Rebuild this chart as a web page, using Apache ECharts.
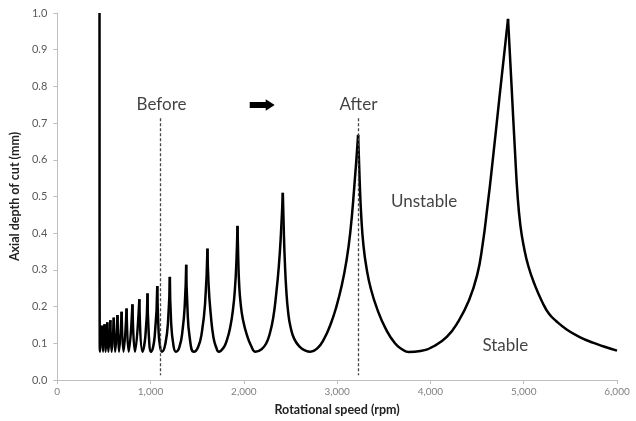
<!DOCTYPE html>
<html>
<head>
<meta charset="utf-8">
<script src="https://cdn.jsdelivr.net/npm/echarts@6/dist/echarts.min.js"></script>
<style>
  html, body { margin: 0; background: #fff; }
  #main { width: 636px; height: 421px; }
</style>
</head>
<body>
<div id="main"></div>
<script>
// stability lobe: [rotational speed rpm, axial depth mm]
var curve = [
  [453, 1.0], [453.6, 0.4], [455, 0.12], [459, 0.077], [482, 0.148],
  [491, 0.077], [507, 0.152],
  [518, 0.077], [536, 0.157],
  [548, 0.077], [569, 0.163],
  [583, 0.077], [606, 0.170],
  [621, 0.077], [646, 0.177],
  [662, 0.077], [690, 0.186],
  [710, 0.077], [743, 0.195],
  [766, 0.077], [806, 0.206],
  [833, 0.077], [880, 0.220],
  [913, 0.077], [945, 0.12], [968, 0.236],
  [980, 0.13], [1006, 0.077], [1045, 0.12], [1072, 0.256],
  [1085, 0.14], [1100, 0.095], [1122, 0.077], [1160, 0.1], [1190, 0.17], [1207, 0.281],
  [1220, 0.16], [1245, 0.095], [1272, 0.077], [1310, 0.09], [1345, 0.14], [1368, 0.21], [1382, 0.314],
  [1395, 0.2], [1420, 0.115], [1464, 0.077], [1510, 0.09], [1550, 0.13], [1585, 0.21], [1610, 0.358],
  [1622, 0.26], [1645, 0.18], [1675, 0.115], [1705, 0.088], [1731, 0.077], [1780, 0.087],
  [1820, 0.11], [1855, 0.145], [1885, 0.195], [1905, 0.25], [1920, 0.32], [1932, 0.42],
  [1940, 0.33], [1950, 0.26], [1965, 0.21], [1990, 0.165], [2036, 0.12], [2080, 0.092],
  [2125, 0.077], [2190, 0.084], [2240, 0.1], [2280, 0.128], [2315, 0.17], [2345, 0.23],
  [2375, 0.31], [2398, 0.40], [2418, 0.51],
  [2428, 0.41], [2440, 0.32], [2455, 0.245], [2475, 0.185], [2500, 0.145], [2540, 0.112],
  [2600, 0.09], [2660, 0.08], [2714, 0.077], [2790, 0.087], [2860, 0.112], [2930, 0.152],
  [2990, 0.198], [3050, 0.258], [3100, 0.325], [3140, 0.40], [3182, 0.52], [3225, 0.668],
  [3242, 0.54], [3260, 0.44], [3283, 0.365], [3315, 0.305], [3360, 0.25], [3430, 0.193],
  [3520, 0.14], [3620, 0.1], [3700, 0.083], [3767, 0.076], [3893, 0.079], [4035, 0.092],
  [4178, 0.118], [4300, 0.16], [4410, 0.215], [4500, 0.285], [4560, 0.37], [4610, 0.47],
  [4660, 0.58], [4740, 0.77], [4832, 0.984],
  [4870, 0.80], [4905, 0.63], [4935, 0.50], [4965, 0.42], [5000, 0.365], [5050, 0.31],
  [5125, 0.255], [5200, 0.212], [5267, 0.182], [5350, 0.16], [5464, 0.137], [5600, 0.117],
  [5749, 0.101], [5850, 0.092], [6000, 0.08]
];
// speeds where two lobes meet (sharp cusps)
var cuspRpm = [453, 482, 507, 536, 569, 606, 646, 690, 743, 806, 880, 968,
  1072, 1207, 1382, 1610, 1932, 2418, 3225, 4832];

var guideRpm = [1107, 3225];
var guideTop = 0.713;
var guideBottom = 0.013;

var noteText = ['Before', 'After', 'Unstable', 'Stable'];
var noteRpm = [1118, 3228, 3932, 4803];
var noteDepth = [0.752, 0.752, 0.487, 0.093];

var arrowAt = [2197, 0.7495];

// split the curve at the cusps so each lobe is smoothed on its own
var segments = [];
var cur = [];
curve.forEach(function (p) {
  cur.push(p);
  if (cuspRpm.indexOf(p[0]) >= 0 && cur.length > 1) {
    segments.push(cur);
    cur = [p];
  }
});
if (cur.length > 1) segments.push(cur);

var series = segments.map(function (seg) {
  return {
    type: 'line',
    data: seg,
    smooth: 0.5,
    symbol: 'none',
    silent: true,
    lineStyle: { color: '#000', width: 2.5 }
  };
});

series.push({
  type: 'line',
  data: [],
  silent: true,
  markLine: {
    symbol: 'none',
    silent: true,
    label: { show: false },
    lineStyle: { color: '#444', width: 1.3, type: [3, 2] },
    data: guideRpm.map(function (r) {
      return [{ coord: [r, guideTop] }, { coord: [r, guideBottom] }];
    })
  },
  markPoint: {
    silent: true,
    symbol: 'path://M0,2.7L16,2.7L16,0L25,5.7L16,11.4L16,8.7L0,8.7Z',
    symbolSize: [25, 11.4],
    itemStyle: { color: '#000' },
    label: { show: false },
    data: [{ coord: arrowAt }]
  }
});

series.push({
  type: 'scatter',
  symbolSize: 0,
  silent: true,
  data: noteText.map(function (t, i) {
    return { name: t, value: [noteRpm[i], noteDepth[i]] };
  }),
  label: {
    show: true,
    position: 'inside',
    formatter: '{b}',
    fontFamily: 'Lato',
    fontSize: 17,
    color: '#111'
  }
});

var chart = echarts.init(document.getElementById('main'));
chart.setOption({
  animation: false,
  textStyle: { fontFamily: 'Lato' },
  grid: { left: 57, right: 19, top: 13, bottom: 41 },
  xAxis: {
    type: 'value',
    min: 0,
    max: 6000,
    interval: 1000,
    name: 'Rotational speed (rpm)',
    nameLocation: 'middle',
    nameGap: 23,
    nameTextStyle: { fontFamily: 'Lato', fontWeight: 'bold', fontSize: 12.5, color: '#222' },
    axisLine: { show: true, lineStyle: { color: '#bfbfbf', width: 1 } },
    axisTick: { show: true, length: 4, lineStyle: { color: '#bfbfbf' } },
    splitLine: { show: false },
    axisLabel: {
      color: '#808080',
      fontSize: 10,
      margin: 7,
      formatter: function (v) { return v.toLocaleString('en-US'); }
    }
  },
  yAxis: {
    type: 'value',
    min: 0,
    max: 1,
    interval: 0.1,
    name: 'Axial depth of cut (mm)',
    nameLocation: 'middle',
    nameGap: 31,
    nameTextStyle: { fontFamily: 'Lato', fontWeight: 'bold', fontSize: 12.5, color: '#222' },
    axisLine: { show: true, lineStyle: { color: '#bfbfbf', width: 1 } },
    axisTick: { show: true, length: 4, lineStyle: { color: '#bfbfbf' } },
    splitLine: { show: false },
    axisLabel: {
      color: '#595959',
      fontSize: 11,
      margin: 10,
      formatter: function (v) { return v.toFixed(1); }
    }
  },
  series: series
});
</script>
</body>
</html>
